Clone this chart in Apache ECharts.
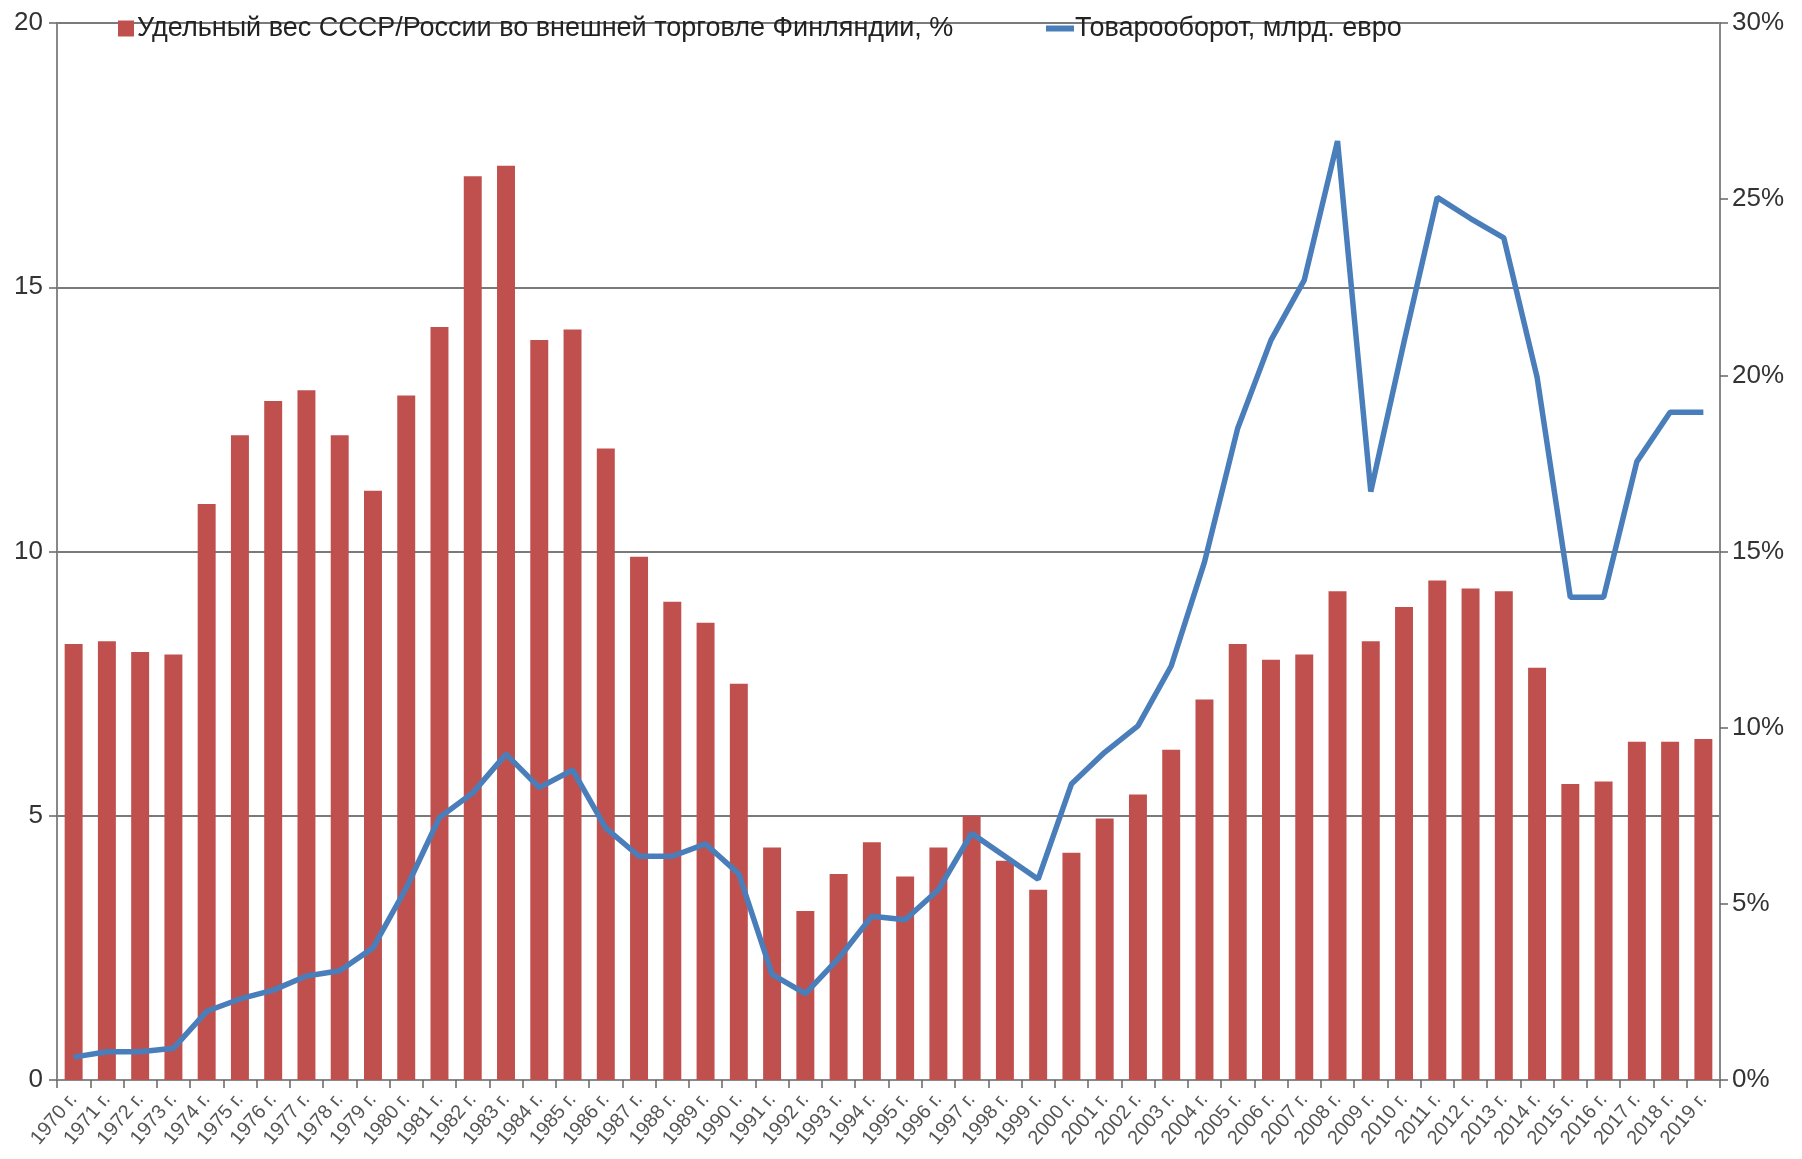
<!DOCTYPE html>
<html>
<head>
<meta charset="utf-8">
<script src="https://cdn.jsdelivr.net/npm/echarts@6/dist/echarts.min.js"></script>
<style>
  html, body { margin: 0; padding: 0; background: #fff; }
  #chart { width: 1802px; height: 1159px; }
</style>
</head>
<body>
<div id="chart"></div>
<script>
// годы
var years = []
for (var y = 1970; y <= 2019; y++) years.push(y + ' г.')

// Удельный вес СССР/России во внешней торговле Финляндии, % (левая ось)
var shareValues = [
  8.25, 8.3, 8.1, 8.05, 10.9, 12.2, 12.85, 13.05, 12.2, 11.15,
  12.95, 14.25, 17.1, 17.3, 14.0, 14.2, 11.95, 9.9, 9.05, 8.65,
  7.5, 4.4, 3.2, 3.9, 4.5, 3.85, 4.4, 5.0, 4.15, 3.6,
  4.3, 4.95, 5.4, 6.25, 7.2, 8.25, 7.95, 8.05, 9.25, 8.3,
  8.95, 9.45, 9.3, 9.25, 7.8, 5.6, 5.65, 6.4, 6.4, 6.45
]

// Товарооборот, млрд. евро (правая ось, подписана в %)
var turnoverValues = [
  0.65, 0.8, 0.8, 0.9, 1.95, 2.3, 2.55, 2.95, 3.1, 3.75,
  5.45, 7.45, 8.15, 9.25, 8.3, 8.8, 7.15, 6.35, 6.35, 6.7,
  5.85, 3.0, 2.45, 3.45, 4.65, 4.55, 5.4, 7.0, 6.35, 5.7,
  8.4, 9.3, 10.05, 11.75, 14.7, 18.5, 21.0, 22.7, 26.65, 16.7,
  20.95, 25.05, 24.45, 23.9, 19.95, 13.7, 13.7, 17.55, 18.95, 18.95
]

var leftTicks = [0, 5, 10, 15, 20]
var rightTicks = [0, 5, 10, 15, 20, 25, 30]

var barName = 'Удельный вес СССР/России во внешней торговле Финляндии, %'
var lineName = 'Товарооборот, млрд. евро'

var myChart = echarts.init(document.getElementById('chart'))
var font = 'Liberation Sans, Arial, sans-serif'

myChart.setOption({
  backgroundColor: '#fff',
  animation: false,
  textStyle: { fontFamily: font },
  legend: [
    {
      data: [{ name: barName, icon: 'rect' }],
      left: 118, top: 15, padding: 0,
      itemWidth: 16, itemHeight: 16, itemGap: 0,
      textStyle: { fontSize: 27, color: '#222', fontFamily: font, padding: [0, 0, 0, -2] }
    },
    {
      data: [{ name: lineName, icon: 'rect' }],
      left: 1046, top: 15, padding: 0,
      itemWidth: 28, itemHeight: 6, itemGap: 0,
      textStyle: { fontSize: 27, color: '#222', fontFamily: font, padding: [0, 0, 0, -4] }
    }
  ],
  grid: { left: 57, right: 82, top: 23, bottom: 79, containLabel: false },
  xAxis: {
    type: 'category',
    data: years,
    boundaryGap: true,
    axisLine: { lineStyle: { color: '#888', width: 2 } },
    axisTick: { show: true, interval: 0, length: 8, lineStyle: { color: '#666', width: 1.5 } },
    axisLabel: { interval: 0, rotate: 50, fontSize: 20, color: '#555', margin: 16, fontFamily: font },
    splitLine: { show: false }
  },
  yAxis: [
    {
      type: 'value',
      min: leftTicks[0], max: leftTicks[leftTicks.length - 1], interval: 5,
      axisLine: { show: true, lineStyle: { color: '#888', width: 2 } },
      axisTick: { show: true, length: 8, lineStyle: { color: '#666', width: 1.5 } },
      axisLabel: { fontSize: 26, color: '#333', margin: 14, fontFamily: font },
      splitLine: { show: true, lineStyle: { color: '#7a7a7a', width: 2 } }
    },
    {
      type: 'value',
      min: rightTicks[0], max: rightTicks[rightTicks.length - 1], interval: 5,
      position: 'right',
      axisLine: { show: true, lineStyle: { color: '#888', width: 2 } },
      axisTick: { show: true, length: 8, lineStyle: { color: '#666', width: 1.5 } },
      axisLabel: { fontSize: 26, color: '#333', margin: 12, formatter: '{value}%', fontFamily: font },
      splitLine: { show: false }
    }
  ],
  series: [
    {
      name: barName,
      type: 'bar',
      yAxisIndex: 0,
      data: shareValues,
      barCategoryGap: '46%',
      itemStyle: { color: '#C0504D' }
    },
    {
      name: lineName,
      type: 'line',
      yAxisIndex: 1,
      data: turnoverValues,
      symbol: 'none',
      lineStyle: { color: '#4A7EBB', width: 5.5 },
      itemStyle: { color: '#4A7EBB' }
    }
  ]
})
</script>
</body>
</html>
